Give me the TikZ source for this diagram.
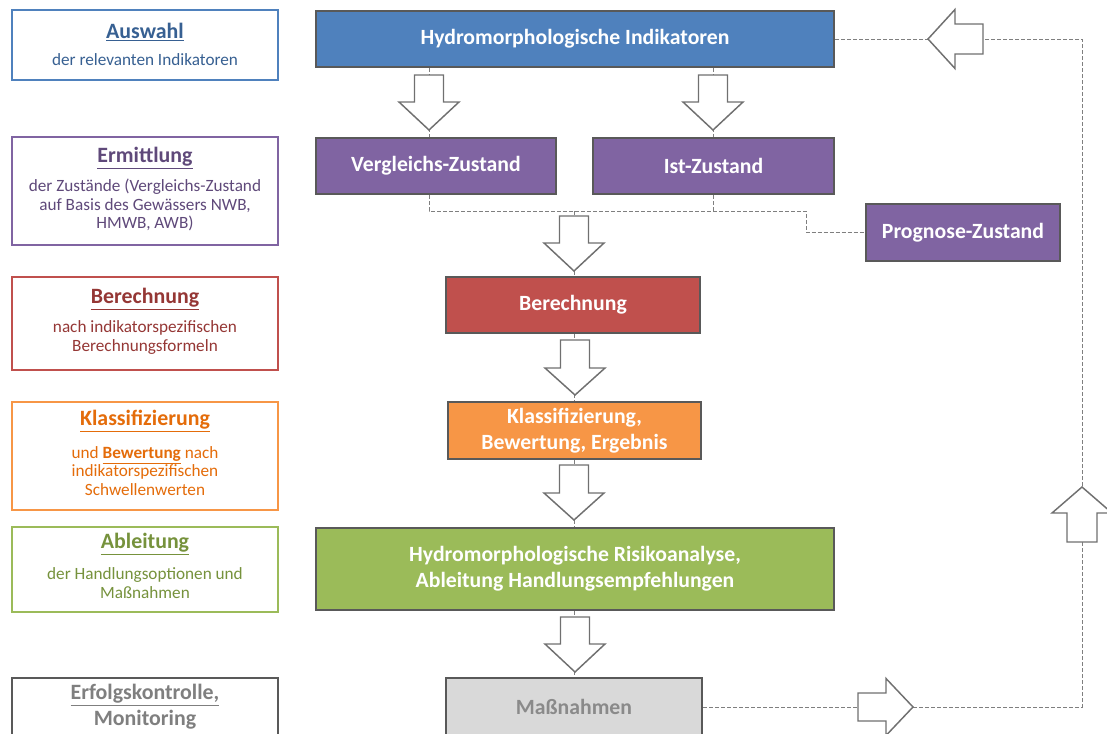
\documentclass[tikz,border=0pt]{standalone}
\usepackage{fontspec}
\setmainfont{Carlito}
\usetikzlibrary{calc}
\definecolor{cblue}{HTML}{4F81BD}
\definecolor{cpurple}{HTML}{8064A2}
\definecolor{cred}{HTML}{C0504D}
\definecolor{corange}{HTML}{F79646}
\definecolor{cgreen}{HTML}{9BBB59}
\definecolor{cgrayfill}{HTML}{D9D9D9}
\definecolor{cborder}{HTML}{595959}
\definecolor{tblue}{HTML}{376092}
\definecolor{tpurple}{HTML}{5F497A}
\definecolor{tred}{HTML}{953735}
\definecolor{torange}{HTML}{E46C0A}
\definecolor{tgreen}{HTML}{76923C}
\definecolor{tgray}{HTML}{7F7F7F}
\definecolor{tmass}{HTML}{8A8A8A}
\definecolor{arrgray}{HTML}{707070}
\definecolor{dashgray}{HTML}{7F7F7F}
\newcommand{\blkdn}[4]{%
  \draw[blk] (#1-14.5,#2) -- (#1+14.5,#2) -- (#1+14.5,#3) -- (#1+30,#3) -- (#1,#4) -- (#1-30,#3) -- (#1-14.5,#3) -- cycle;}
\begin{document}
\begin{tikzpicture}[x=0.75pt,y=-0.75pt,
  mbox/.style={draw=cborder, line width=1.5pt, text=white, font=\bfseries\fontsize{16.3}{19.5}\selectfont, align=center, inner sep=0pt},
  lbox/.style={draw, line width=1.5pt, minimum width=199.5pt, inner sep=0pt, fill=white},
  ltitle/.style={font=\bfseries\fontsize{16.4}{19}\selectfont, align=center, inner sep=0pt},
  lsub/.style={font=\fontsize{12.9}{14}\selectfont, align=center, inner sep=0pt},
  dline/.style={draw=dashgray, line width=0.75pt, dash pattern=on 3pt off 1.5pt},
  blk/.style={draw=arrgray, line width=1.1pt, fill=white, line join=miter}]
\useasboundingbox (0,0) rectangle (1107,733);
\clip (0,0) rectangle (1107,733);

% left column
\node[lbox, draw=cblue, minimum height=52.5pt] (lauswahl) at (145,45) {};
\node[ltitle, text=tblue] (tauswahl) at (145,32) {\underline{Auswahl}};
\node[lsub, text=tblue] (sauswahl) at (145,60) {der relevanten Indikatoren};

\node[lbox, draw=cpurple, minimum height=81pt] (lerm) at (145,191) {};
\node[ltitle, text=tpurple] (term) at (145,158) {\underline{Ermittlung}};
\node[lsub, text=tpurple] (serm) at (145,205) {der Zustände (Vergleichs-Zustand\\auf Basis des Gewässers NWB,\\HMWB, AWB)};

\node[lbox, draw=cred, minimum height=69.75pt] (lber) at (145,323.5) {};
\node[ltitle, text=tred] (tber) at (145,299) {\underline{Berechnung}};
\node[lsub, text=tred] (sber) at (145,337.5) {nach indikatorspezifischen\\Berechnungsformeln};

\node[lbox, draw=corange, minimum height=81pt] (lkl) at (145,456) {};
\node[ltitle, text=torange] (tkl) at (145,421) {\underline{Klassifizierung}};
\node[lsub, text=torange] (skl) at (145,471) {und \textbf{\underline{Bewertung}} nach\\indikatorspezifischen\\Schwellenwerten};

\node[lbox, draw=cgreen, minimum height=63.75pt] (lab) at (145,569.5) {};
\node[ltitle, text=tgreen] (tab) at (145,544) {\underline{Ableitung}};
\node[lsub, text=tgreen] (sab) at (145,583) {der Handlungsoptionen und\\Maßnahmen};

\node[lbox, draw=cborder, minimum height=51pt] (lerf) at (145,712) {};
\node[ltitle, text=tgray] (terf) at (145,695) {\underline{Erfolgskontrolle,}};
\node[ltitle, text=tgray] (terf2) at (145,720) {Monitoring};

% main column
\node[mbox, fill=cblue, minimum width=388.5pt, minimum height=42pt] (hyd) at (575,39) {Hydromorphologische Indikatoren};
\node[mbox, fill=cpurple, minimum width=180pt, minimum height=42pt] (verg) at (436,166) {Vergleichs-Zustand};
\node[mbox, fill=cpurple, minimum width=180.75pt, minimum height=42pt] (ist) at (713.5,166) {Ist-Zustand};
\node[mbox, fill=cpurple, minimum width=145.5pt, minimum height=42.75pt] (prog) at (963,232.5) {Prognose-Zustand};
\node[mbox, fill=cred, minimum width=190.5pt, minimum height=42pt] (ber) at (573,305) {Berechnung};
\node[mbox, fill=corange, minimum width=189.75pt, minimum height=42.75pt] (kl) at (574.5,430.5) {Klassifizierung,\\Bewertung, Ergebnis};
\node[mbox, fill=cgreen, minimum width=388.5pt, minimum height=61.5pt] (risk) at (575,569) {Hydromorphologische Risikoanalyse,\\Ableitung Handlungsempfehlungen};
\node[mbox, fill=cgrayfill, text=tmass, minimum width=192pt, minimum height=43.5pt] (mass) at (574,707) {Maßnahmen};

% dashed connectors
\coordinate (jl) at (429,211);
\coordinate (jm) at (574,211);
\coordinate (jr) at (806,211);
\coordinate (lr) at (1082,707);
\coordinate (ur) at (1082,39);
\draw[dline] (hyd.south -| jl) -- (verg.north -| jl);
\draw[dline] (hyd.south -| ist) -- (ist.north);
\draw[dline] (verg.south -| jl) -- (jl) -- (jr) |- (prog.west);
\draw[dline] (ist.south) -- (ist.south |- jl);
\draw[dline] (jm) -- (ber.north -| jm);
\draw[dline] (ber.south -| jm) -- (kl.north -| jm);
\draw[dline] (kl.south -| jm) -- (risk.north -| jm);
\draw[dline] (risk.south -| jm) -- (mass.north -| jm);
\draw[dline] (mass.east) -- (lr) -- (ur) -- (hyd.east |- ur);

% block arrows
\blkdn{429}{75}{102}{130}
\blkdn{713}{75}{102}{130}
\blkdn{574}{216}{243}{271}
\blkdn{575}{340}{368}{395}
\blkdn{574}{465}{493}{520}
\blkdn{575}{617}{644}{672}
% left-pointing arrow (top right)
\draw[blk] (983,24) -- (983,54) -- (955,54) -- (955,68.5) -- (928,39) -- (955,9.5) -- (955,24) -- cycle;
% right-pointing arrow (bottom)
\draw[blk] (858,693) -- (886,693) -- (886,678.5) -- (913,707) -- (886,735.5) -- (886,721) -- (858,721) -- cycle;
% up-pointing arrow (right)
\draw[blk] (1067,542) -- (1097,542) -- (1097,513) -- (1112,513) -- (1082,487) -- (1052,513) -- (1067,513) -- cycle;
\end{tikzpicture}
\end{document}
